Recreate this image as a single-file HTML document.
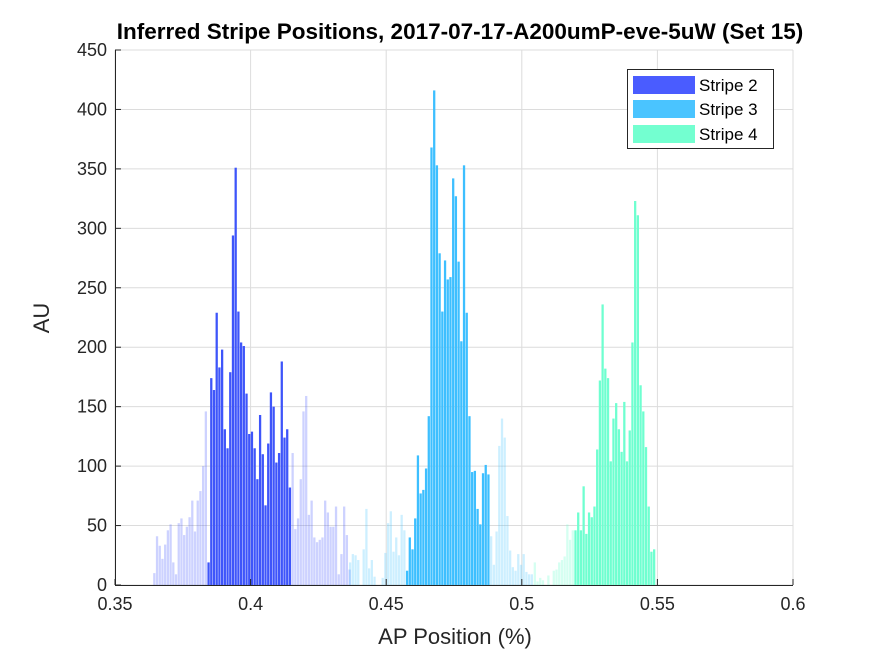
<!DOCTYPE html>
<html><head><meta charset="utf-8"><style>
body{margin:0;background:#fff;}
svg{display:block;font-family:"Liberation Sans",Arial,sans-serif;}
</style></head><body>
<svg id="chart" width="875" height="656" viewBox="0 0 875 656">
<rect x="0" y="0" width="875" height="656" fill="#fff"/>
<g id="grid"></g>
<g id="bars"></g>
<g id="axes"></g>
<text x="460" y="39" text-anchor="middle" font-size="22.5" font-weight="bold" fill="#000">Inferred Stripe Positions, 2017-07-17-A200umP-eve-5uW (Set 15)</text>
<text x="455" y="644" text-anchor="middle" font-size="22" fill="#262626">AP Position (%)</text>
<text x="0" y="0" transform="translate(49,318) rotate(-90)" text-anchor="middle" font-size="22" fill="#262626">AU</text>
<g>
<rect x="627.5" y="69.5" width="146" height="79" fill="#fff" stroke="#262626" stroke-width="1"/>
<rect x="633" y="76" width="62" height="18" fill="#4a5cff"/>
<text x="699" y="91" font-size="17" fill="#000">Stripe 2</text>
<rect x="633" y="100" width="62" height="18" fill="#4ac4ff"/>
<text x="699" y="115" font-size="17" fill="#000">Stripe 3</text>
<rect x="633" y="125" width="62" height="18" fill="#73ffd0"/>
<text x="699" y="140" font-size="17" fill="#000">Stripe 4</text>
</g>
</svg>
<script>
const xTicks=[0.35,0.4,0.45,0.5,0.55,0.6];
const xTickLabels=["0.35","0.4","0.45","0.5","0.55","0.6"];
const yTicks=[0,50,100,150,200,250,300,350,400,450];
const binWidth=0.001;
const stripe2PaleLeftStart=0.3645;
const stripe2PaleLeft=[10,41,33,22,34,46,51,19,9,52,56,42,49,57,71,45,71,79,100,146];
const stripe2Start=0.3845;
const stripe2=[19,174,164,229,183,198,131,115,179,294,351,230,204,201,161,127,129,115,89,143,110,67,119,162,150,103,111,188,124,131,82];
const stripe2PaleRightStart=0.4155;
const stripe2PaleRight=[111,47,56,89,146,159,59,71,40,36,38,40,71,61,49,49,66,9,26,66,42,13];
const stripe3PaleLeftStart=0.4367;
const stripe3PaleLeft=[19,26,25,21,0,30,64,14,21,7,0,0,6,27,52,62,28,40,25,59,46];
const stripe3Start=0.4577;
const stripe3=[12,40,30,56,109,77,80,98,142,368,416,353,279,230,273,257,259,342,327,272,205,353,229,142,95,96,64,51,94,101,93];
const stripe3PaleRightStart=0.4887;
const stripe3PaleRight=[41,17,45,117,140,124,58,29,15,12,26,17,26,11,9,9];
const stripe4PaleStart=0.5048;
const stripe4Pale=[19,3,6,4,0,8,0,12,13,19,21,24,51,38,46];
const stripe4Start=0.5198;
const stripe4=[46,61,46,83,43,61,57,66,114,172,236,182,174,104,140,153,131,112,154,104,130,204,323,311,168,146,116,66,28,30];

const X0=115,X1=793,Y0=585,Y1=50;
const xs=v=>X0+(v-0.35)/(0.6-0.35)*(X1-X0);
const ys=v=>Y0-(v/450)*(Y0-Y1);
const NS="http://www.w3.org/2000/svg";
function mk(tag,attrs,parent){const e=document.createElementNS(NS,tag);for(const k in attrs)e.setAttribute(k,attrs[k]);parent.appendChild(e);return e;}
const grid=document.getElementById('grid'),bars=document.getElementById('bars'),axes=document.getElementById('axes');
xTicks.forEach((t,i)=>{const l=mk('line',{x1:xs(t),x2:xs(t),y1:Y1,y2:Y0,stroke:'#dcdcdc','stroke-width':1},grid);


const tk=mk('line',{x1:xs(t),x2:xs(t),y1:Y0,y2:Y0-6,stroke:'#262626','stroke-width':1},axes);


const tx=mk('text',{x:xs(t),y:Y0+25,'text-anchor':'middle','font-size':18,fill:'#262626'},axes);tx.textContent=xTickLabels[i];

});
yTicks.forEach(t=>{const l=mk('line',{x1:X0,x2:X1,y1:ys(t),y2:ys(t),stroke:'#dcdcdc','stroke-width':1},grid);


const tk=mk('line',{x1:X0,x2:X0+6,y1:ys(t),y2:ys(t),stroke:'#262626','stroke-width':1},axes);


const tx=mk('text',{x:X0-8,y:ys(t)+6,'text-anchor':'end','font-size':18,fill:'#262626'},axes);tx.textContent=String(t);

});
function series(start,vals,color,op,name){vals.forEach((v,i)=>{if(v<=0)return;const c=start+i*binWidth;
const x=xs(c-binWidth*0.42),w=xs(c+binWidth*0.42)-x;
const r=mk('rect',{x:x,y:ys(v),width:w,height:ys(0)-ys(v),fill:color,'fill-opacity':op},bars);

});}
series(stripe2PaleLeftStart,stripe2PaleLeft,'#4a5cff',0.28,'stripe-2-faint-bar');
series(stripe2PaleRightStart,stripe2PaleRight,'#4a5cff',0.28,'stripe-2-faint-bar');
series(stripe3PaleLeftStart,stripe3PaleLeft,'#4ac4ff',0.28,'stripe-3-faint-bar');
series(stripe3PaleRightStart,stripe3PaleRight,'#4ac4ff',0.28,'stripe-3-faint-bar');
series(stripe4PaleStart,stripe4Pale,'#73ffd0',0.3,'stripe-4-faint-bar');
series(stripe2Start,stripe2,'#3e55fa',1,'stripe-2-bar');
series(stripe3Start,stripe3,'#3dbfff',1,'stripe-3-bar');
series(stripe4Start,stripe4,'#6fffd0',1,'stripe-4-bar');
const b=mk('line',{x1:X0,x2:X1,y1:Y0+0.5,y2:Y0+0.5,stroke:'#262626','stroke-width':1},axes);


const lft=mk('line',{x1:X0+0.5,x2:X0+0.5,y1:Y1,y2:Y0,stroke:'#262626','stroke-width':1},axes);


</script>
</body></html>
